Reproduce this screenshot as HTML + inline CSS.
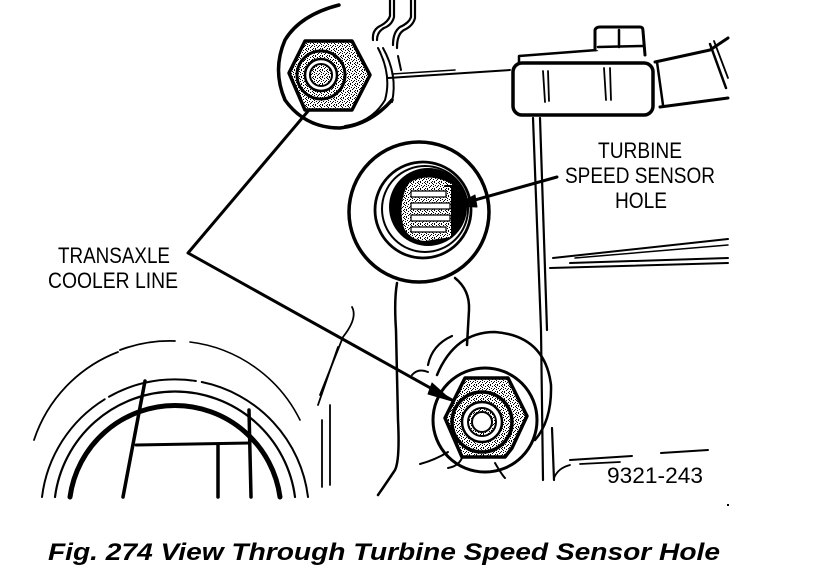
<!DOCTYPE html>
<html><head><meta charset="utf-8"><style>
html,body{margin:0;padding:0;background:#fff;}
svg{display:block;}
</style></head><body>
<svg width="816" height="576" viewBox="0 0 816 576" xmlns="http://www.w3.org/2000/svg">
<defs>
<pattern id="st" width="7" height="7" patternUnits="userSpaceOnUse">
<rect width="7" height="7" fill="#fff"/>
<g fill="#000">
<rect x="0" y="0" width="1" height="1"/>
<rect x="4" y="0" width="1" height="1"/>
<rect x="2" y="1" width="1" height="1"/>
<rect x="6" y="2" width="1" height="1"/>
<rect x="1" y="3" width="1" height="1"/>
<rect x="4" y="3" width="1" height="1"/>
<rect x="6" y="4" width="1" height="1"/>
<rect x="2" y="5" width="1" height="1"/>
<rect x="5" y="6" width="1" height="1"/>
<rect x="0" y="6" width="1" height="1"/>
<rect x="3" y="4" width="1" height="1"/>
<rect x="5" y="1" width="1" height="1"/>
</g>
</pattern>
</defs>
<g fill="none" stroke="#000" stroke-linecap="round" stroke-linejoin="round">

<!-- top pipes -->
<path d="M390 0 L390 16 Q388 22 380 26 Q372 30 373 40" stroke-width="2.2"/>
<path d="M394 0 L394 17 Q392 25 384 28 Q377 32 377 40" stroke-width="2.2"/>
<path d="M411 0 L411 17 Q409 23 400 27 Q393 32 393 45" stroke-width="2.2"/>
<path d="M415 0 L415 18 Q413 26 404 30 Q397 34 397 48" stroke-width="2.2"/>
<path d="M398 56 L401 70" stroke-width="2"/>

<!-- top nut surround -->
<path d="M339 5 Q300 15 285 40 Q272 70 285 100 Q305 128 340 128 Q370 125 392 100" stroke-width="3.5"/>
<path d="M378 48 Q392 75 385 100 Q372 122 345 126" stroke-width="2"/>
<path d="M383 48 Q398 75 392 102" stroke-width="2"/>
<path d="M388 78 L510 70" stroke-width="2"/>
<path d="M392 74 L455 70" stroke-width="1.5"/>

<!-- top nut -->
<polygon points="289,73 305,41 352,41 370,75 352,110 305,110" fill="url(#st)" stroke-width="3.5"/>
<circle cx="321" cy="75" r="24" fill="url(#st)" stroke-width="3"/>
<circle cx="321" cy="75" r="16" fill="#fff" stroke-width="2.5"/>
<circle cx="321" cy="75" r="11" fill="url(#st)" stroke-width="2"/>

<!-- connector -->
<path d="M519 66 L519 56 L597 50" stroke-width="2.5"/>
<path d="M595 50 L595 30 Q596 27 600 27 L640 27 Q643 27 643 31 L645 55" stroke-width="3" fill="#fff"/>
<line x1="619" y1="30" x2="619" y2="47" stroke-width="2.5"/>
<line x1="598" y1="47" x2="643" y2="46" stroke-width="2.5"/>
<rect x="513" y="63" width="140" height="52" rx="9" stroke-width="3.5" fill="#fff"/>
<line x1="543" y1="71" x2="545" y2="102" stroke-width="1.8"/>
<line x1="548" y1="71" x2="549" y2="101" stroke-width="1.8"/>
<line x1="604" y1="68" x2="606" y2="100" stroke-width="1.8"/>
<line x1="610" y1="68" x2="611" y2="100" stroke-width="1.8"/>
<path d="M655 62 L710 50 L728 38" stroke-width="3"/>
<path d="M660 107 L728 98" stroke-width="3"/>
<path d="M657 62 L663 105" stroke-width="2.5"/>
<path d="M710 44 L726 88" stroke-width="2.5"/>
<path d="M714 41 L728 78" stroke-width="1.8"/>

<!-- housing right vertical lines -->
<path d="M533 118 L541 330 L543 480" stroke-width="2.2"/>
<path d="M540 118 L547 330" stroke-width="2.2"/>
<path d="M552 428 L554 480" stroke-width="2.2"/>
<path d="M554 478 Q558 468 570 465" stroke-width="1.8"/>
<path d="M570 460 L632 456" stroke-width="2"/>
<path d="M580 464 L620 462" stroke-width="1.8"/>
<path d="M661 453 L708 450" stroke-width="2"/>

<!-- diagonal double lines -->
<path d="M553 258 L728 239" stroke-width="2"/>
<path d="M570 263 L728 258" stroke-width="2"/>
<path d="M550 268 L728 263" stroke-width="2"/>
<path d="M575 258 L728 245" stroke-width="1.5"/>

<!-- sensor hole -->
<circle cx="419" cy="212" r="70" stroke-width="3.5" fill="#fff"/>
<circle cx="423" cy="210" r="48" stroke-width="2.8"/>
<circle cx="425" cy="209" r="43" stroke-width="2"/>
<circle cx="428" cy="207" r="38" fill="#000" stroke-width="2"/>
<path d="M406 188 Q398 208 404 228 Q410 240 425 241 L451 237 L452 184 Q430 172 410 182 Z" fill="url(#st)" stroke="none"/>
<g stroke-width="1.2" fill="#fff">
<rect x="411" y="191" width="35" height="6"/>
<rect x="411" y="203" width="39" height="6"/>
<rect x="411" y="215" width="39" height="6"/>
<rect x="411" y="227" width="35" height="5"/>
</g>
<path d="M445 186 L452 186 L452 236" stroke="#000" stroke-width="2"/>

<!-- structure below sensor -->
<path d="M397 283 Q394 300 396 330 L398 420 Q400 460 395 470 Q385 485 378 495" stroke-width="2.5"/>
<path d="M455 278 Q470 290 469 310 L467 345" stroke-width="2.5"/>
<path d="M428 365 Q432 345 452 336" stroke-width="2.2"/>
<path d="M412 375 Q418 368 428 372" stroke-width="2"/>
<path d="M420 464 Q435 460 448 452" stroke-width="2"/>
<path d="M448 468 Q460 466 463 455" stroke-width="2"/>
<path d="M495 463 Q502 475 505 478" stroke-width="2"/>

<!-- bottom nut surround -->
<path d="M437 375 Q455 332 495 332 Q545 336 551 385 Q552 420 535 440" stroke-width="2.5"/>
<circle cx="485" cy="420" r="52" stroke-width="3"/>
<!-- bottom nut -->
<polygon points="445,418 465,378 508,378 527,416 512,448 505,457 462,457" fill="url(#st)" stroke-width="3.5"/>
<circle cx="482" cy="422" r="30" fill="url(#st)" stroke-width="3.5"/>
<circle cx="482" cy="422" r="20" fill="#fff" stroke-width="2.5"/>
<circle cx="482" cy="422" r="14" fill="url(#st)" stroke-width="2"/>
<circle cx="482" cy="422" r="10" fill="#fff" stroke-width="2"/>

<!-- leader lines -->
<path d="M309 110 L188 253 L452 400" stroke-width="3"/>
<polygon points="452,401 432,383 428,394" fill="#000" stroke-width="1"/>
<path d="M557 177 L457 205" stroke-width="3"/>
<polygon points="455,206 475,195 477,207" fill="#000" stroke-width="1"/>

<!-- left-middle thin lines -->
<path d="M352 307 Q358 318 343 337 L320 395" stroke-width="1.8"/>
<path d="M338 347 L318 405" stroke-width="1.8"/>
<path d="M322 420 L322 487" stroke-width="1.8"/>
<path d="M330 405 L330 485" stroke-width="1.8"/>

<!-- bottom-left big circle (center 175,483) -->
<path d="M70 497 A106 106 0 0 1 280 497" stroke-width="5"/>
<path d="M55 497 A121 121 0 0 1 295 497" stroke-width="2.2"/>
<path d="M42 497 A134 134 0 0 1 308 497" stroke-width="2" stroke-dasharray="120 5 90 6 300"/>
<path d="M34 440 A142 142 0 0 1 118 352" stroke-width="1.8"/>
<path d="M120 350 A142 142 0 0 1 175 341" stroke-width="1.8"/>
<path d="M190 342 A142 142 0 0 1 300 420" stroke-width="1.6"/>
<path d="M145 381 L123 497" stroke-width="3.5"/>
<path d="M136 445 L250 443" stroke-width="3"/>
<path d="M218 445 L218 497" stroke-width="3.5"/>
<path d="M249 410 L251 497" stroke-width="3.5"/>
</g>

<!-- dot -->
<rect x="727" y="504" width="2" height="2" fill="#000"/>

<g font-family="'Liberation Sans', sans-serif" fill="#000">
<text x="640" y="158" text-anchor="middle" font-size="22" textLength="84" lengthAdjust="spacingAndGlyphs">TURBINE</text>
<text x="640" y="183" text-anchor="middle" font-size="22" textLength="150" lengthAdjust="spacingAndGlyphs">SPEED SENSOR</text>
<text x="641" y="208" text-anchor="middle" font-size="22" textLength="52" lengthAdjust="spacingAndGlyphs">HOLE</text>
<text x="114" y="263" text-anchor="middle" font-size="22" textLength="112" lengthAdjust="spacingAndGlyphs">TRANSAXLE</text>
<text x="113" y="288" text-anchor="middle" font-size="22" textLength="130" lengthAdjust="spacingAndGlyphs">COOLER LINE</text>
<text x="607" y="483" font-size="22" textLength="96" lengthAdjust="spacingAndGlyphs">9321-243</text>
<text x="48" y="560" font-size="24" font-weight="bold" font-style="italic" textLength="672" lengthAdjust="spacingAndGlyphs">Fig. 274 View Through Turbine Speed Sensor Hole</text>
</g>
</svg>
</body></html>
